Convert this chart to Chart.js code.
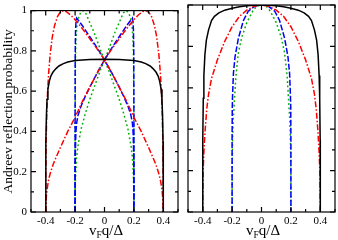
<!DOCTYPE html>
<html><head><meta charset="utf-8">
<script src="https://cdn.jsdelivr.net/npm/chart.js@4"></script>
<style>
html,body{margin:0;padding:0;background:#fff;}
#wrap{position:relative;width:338px;height:240px;overflow:hidden;background:#fff;}
canvas{position:absolute;top:0;}
.xt{position:absolute;font-family:"Liberation Serif","Times New Roman",serif;font-size:15px;line-height:15px;color:#000;white-space:nowrap;transform:translateX(-50%);top:223px;}
.xt sub{font-size:9.5px;vertical-align:-3px;line-height:0;}
</style></head><body>
<div id="wrap">
<canvas id="c1" width="182" height="240" style="left:0"></canvas>
<canvas id="c2" width="156" height="240" style="left:182px"></canvas>
<div class="xt" style="left:106px">v<sub>F</sub>q/Δ</div>
<div class="xt" style="left:263px">v<sub>F</sub>q/Δ</div>
</div>
<script>
// ---- tick labels ----
const xTickLabels = [-0.4, -0.2, 0, 0.2, 0.4];
const yTickLabels = [0, 0.2, 0.4, 0.6, 0.8, 1];
const yTitle = 'Andreev reflection probability';

// ---- left panel ----
const leftBlackX = [-0.4,-0.4,-0.398,-0.395,-0.391,-0.385,-0.375,-0.365,-0.35,-0.33,-0.31,-0.28,-0.25,-0.2,-0.1,0,0.1,0.2,0.25,0.28,0.31,0.33,0.35,0.365,0.375,0.385,0.391,0.395,0.398,0.4,0.4];
const leftBlackY = [0,0.25,0.35,0.48,0.56,0.61,0.65,0.675,0.695,0.712,0.725,0.737,0.745,0.752,0.757,0.758,0.757,0.752,0.745,0.737,0.725,0.712,0.695,0.675,0.65,0.61,0.56,0.48,0.35,0.25,0];

const leftRedAX = [-0.4,-0.399,-0.397,-0.393,-0.387,-0.38,-0.37,-0.355,-0.34,-0.32,-0.3,-0.28,-0.26,-0.23,-0.2,-0.15,-0.1,-0.05,0,0.05,0.1,0.15,0.2,0.25,0.3,0.33,0.35,0.37,0.38,0.388,0.394,0.398,0.4];
const leftRedAY = [0,0.2,0.35,0.48,0.6,0.69,0.78,0.87,0.925,0.97,0.993,1.0,0.995,0.978,0.955,0.91,0.86,0.81,0.755,0.69,0.62,0.55,0.47,0.4,0.32,0.27,0.235,0.19,0.16,0.125,0.09,0.05,0];
const leftRedBX = [-0.4,-0.398,-0.394,-0.388,-0.38,-0.37,-0.35,-0.33,-0.3,-0.25,-0.2,-0.15,-0.1,-0.05,0,0.05,0.1,0.15,0.2,0.23,0.26,0.28,0.3,0.32,0.34,0.355,0.37,0.38,0.387,0.393,0.397,0.399,0.4];
const leftRedBY = [0,0.05,0.09,0.125,0.16,0.19,0.235,0.27,0.32,0.4,0.47,0.55,0.62,0.69,0.755,0.81,0.86,0.91,0.955,0.978,0.995,1.0,0.993,0.97,0.925,0.87,0.78,0.69,0.6,0.48,0.35,0.2,0];

const leftBlueAX = [-0.2,-0.2,-0.199,-0.197,-0.194,-0.19,-0.15,-0.1,-0.05,0,0.05,0.1,0.13,0.16,0.18,0.19,0.195,0.198,0.2,0.2];
const leftBlueAY = [0,0.5,0.8,0.9,0.945,0.963,0.925,0.87,0.815,0.755,0.69,0.62,0.575,0.525,0.48,0.44,0.39,0.3,0.2,0];
const leftBlueBX = [-0.2,-0.2,-0.198,-0.195,-0.19,-0.18,-0.16,-0.13,-0.1,-0.05,0,0.05,0.1,0.15,0.19,0.194,0.197,0.199,0.2,0.2];
const leftBlueBY = [0,0.2,0.3,0.39,0.44,0.48,0.525,0.575,0.62,0.69,0.755,0.815,0.87,0.925,0.963,0.945,0.9,0.8,0.5,0];

const leftGreenAX = [-0.2,-0.2,-0.198,-0.194,-0.187,-0.175,-0.16,-0.145,-0.13,-0.12,-0.1,-0.07,-0.05,-0.025,0,0.025,0.05,0.1,0.13,0.16,0.18,0.19,0.196,0.2,0.2];
const leftGreenAY = [0,0.4,0.75,0.86,0.93,0.97,0.993,1.0,0.99,0.975,0.94,0.89,0.85,0.8,0.755,0.71,0.66,0.56,0.49,0.41,0.33,0.27,0.19,0.1,0];
const leftGreenBX = [-0.2,-0.2,-0.196,-0.19,-0.18,-0.16,-0.13,-0.1,-0.05,-0.025,0,0.025,0.05,0.07,0.1,0.12,0.13,0.145,0.16,0.175,0.187,0.194,0.198,0.2,0.2];
const leftGreenBY = [0,0.1,0.19,0.27,0.33,0.41,0.49,0.56,0.66,0.71,0.755,0.8,0.85,0.89,0.94,0.975,0.99,1.0,0.993,0.97,0.93,0.86,0.75,0.4,0];

// ---- right panel ----
const rightBlackX = [-0.4,-0.4,-0.399,-0.396,-0.392,-0.385,-0.375,-0.36,-0.34,-0.32,-0.29,-0.25,-0.2,-0.15,-0.1,-0.05,0,0.05,0.1,0.15,0.2,0.25,0.29,0.32,0.34,0.36,0.375,0.385,0.392,0.396,0.399,0.4,0.4];
const rightBlackY = [0,0.2,0.35,0.55,0.66,0.76,0.83,0.88,0.925,0.945,0.962,0.975,0.984,0.991,0.996,0.999,1,0.999,0.996,0.991,0.984,0.975,0.962,0.945,0.925,0.88,0.83,0.76,0.66,0.55,0.35,0.2,0];

const rightRedX = [-0.4,-0.397,-0.392,-0.384,-0.372,-0.36,-0.34,-0.3,-0.25,-0.2,-0.15,-0.1,-0.05,0,0.05,0.1,0.15,0.2,0.25,0.3,0.34,0.36,0.372,0.384,0.392,0.397,0.4];
const rightRedY = [0,0.2,0.29,0.39,0.5,0.57,0.645,0.735,0.825,0.895,0.945,0.975,0.994,1,0.994,0.975,0.945,0.895,0.825,0.735,0.645,0.57,0.5,0.39,0.29,0.2,0];

const rightBlueX = [-0.2,-0.2,-0.199,-0.197,-0.191,-0.18,-0.157,-0.123,-0.09,-0.045,0,0.045,0.09,0.123,0.157,0.18,0.191,0.197,0.199,0.2,0.2];
const rightBlueY = [0,0.35,0.5,0.56,0.67,0.75,0.84,0.925,0.97,0.995,1,0.995,0.97,0.925,0.84,0.75,0.67,0.56,0.5,0.35,0];

const rightGreenX = [-0.2,-0.2,-0.197,-0.192,-0.185,-0.175,-0.157,-0.134,-0.1,-0.06,-0.032,0,0.032,0.06,0.1,0.134,0.157,0.175,0.185,0.192,0.197,0.2,0.2];
const rightGreenY = [0,0.2,0.35,0.45,0.53,0.65,0.77,0.845,0.915,0.97,0.995,1,0.995,0.97,0.915,0.845,0.77,0.65,0.53,0.45,0.35,0.2,0];

// ---- styles ----
const BLACK = '#000000', RED = '#ff0000', BLUE = '#0000ff', GREEN = '#00b000';
const DASH_RED = [6, 2, 1.5, 2], DASH_BLUE = [6, 2], DASH_GREEN = [1.8, 2.6];
const FONT = '"Liberation Serif","Times New Roman",serif';

function pts(xs, ys) { return xs.map((x, i) => ({ x: x, y: ys[i] })); }
function ds(xs, ys, color, dash) {
  return { data: pts(xs, ys), showLine: true, borderColor: color, borderWidth: 1.5,
    borderDash: dash || [], pointRadius: 0, tension: 0, fill: false };
}
function lab(list) {
  return function (v) { const r = Math.round(v * 10) / 10; return list.includes(r) ? String(r) : ''; };
}

const framePlugin = {
  id: 'frame',
  afterDatasetsDraw(chart) {
    const { ctx, chartArea: a, scales } = chart;
    const sx = scales.x, sy = scales.y;
    ctx.save();
    ctx.strokeStyle = '#000';
    ctx.lineWidth = 1.2;
    ctx.strokeRect(a.left, a.top, a.right - a.left, a.bottom - a.top);
    ctx.beginPath();
    sx.ticks.forEach(t => {
      const r = Math.round(t.value * 10) / 10;
      const L = xTickLabels.includes(r) ? 5 : 3;
      const p = sx.getPixelForValue(t.value);
      ctx.moveTo(p, a.bottom); ctx.lineTo(p, a.bottom - L);
      ctx.moveTo(p, a.top); ctx.lineTo(p, a.top + L);
    });
    sy.ticks.forEach(t => {
      const r = Math.round(t.value * 10) / 10;
      const L = yTickLabels.includes(r) ? 5 : 3;
      const p = sy.getPixelForValue(t.value);
      ctx.moveTo(a.left, p); ctx.lineTo(a.left + L, p);
      ctx.moveTo(a.right, p); ctx.lineTo(a.right - L, p);
    });
    ctx.stroke();
    ctx.restore();
  }
};

function makeChart(id, datasets, showY, pad) {
  return new Chart(document.getElementById(id), {
    type: 'scatter',
    data: { datasets: datasets },
    plugins: [framePlugin],
    options: {
      responsive: false, animation: false, devicePixelRatio: 1,
      layout: { padding: pad },
      plugins: { legend: { display: false }, tooltip: { enabled: false } },
      scales: {
        x: {
          type: 'linear', min: -0.5, max: 0.5,
          grid: { display: false, drawTicks: false }, border: { display: false },
          ticks: { stepSize: 0.1, autoSkip: false, maxRotation: 0, padding: 3,
            color: '#000', font: { family: FONT, size: 11 }, callback: lab(xTickLabels) },
          afterFit(s) { s.height = 28; }
        },
        y: {
          type: 'linear', min: 0, max: 1,
          grid: { display: false, drawTicks: false }, border: { display: false },
          ticks: { display: showY, stepSize: 0.1, autoSkip: false, padding: 4,
            color: '#000', font: { family: FONT, size: 11 }, callback: lab(yTickLabels) },
          title: { display: showY, text: yTitle, color: '#000', padding: 0,
            font: { family: FONT, size: 13.5 } },
          afterFit(s) { s.width = showY ? 31 : 0; }
        }
      }
    }
  });
}

makeChart('c1', [
  ds(leftBlackX, leftBlackY, BLACK),
  ds(leftRedAX, leftRedAY, RED, DASH_RED),
  ds(leftRedBX, leftRedBY, RED, DASH_RED),
  ds(leftBlueAX, leftBlueAY, BLUE, DASH_BLUE),
  ds(leftBlueBX, leftBlueBY, BLUE, DASH_BLUE),
  ds(leftGreenAX, leftGreenAY, GREEN, DASH_GREEN),
  ds(leftGreenBX, leftGreenBY, GREEN, DASH_GREEN)
], true, { left: 0, right: 4, top: 5, bottom: 0 });

makeChart('c2', [
  ds(rightBlackX, rightBlackY, BLACK),
  ds(rightRedX, rightRedY, RED, DASH_RED),
  ds(rightBlueX, rightBlueY, BLUE, DASH_BLUE),
  ds(rightGreenX, rightGreenY, GREEN, DASH_GREEN)
], false, { left: 6, right: 3, top: 5, bottom: 0 });
</script>
</body></html>
